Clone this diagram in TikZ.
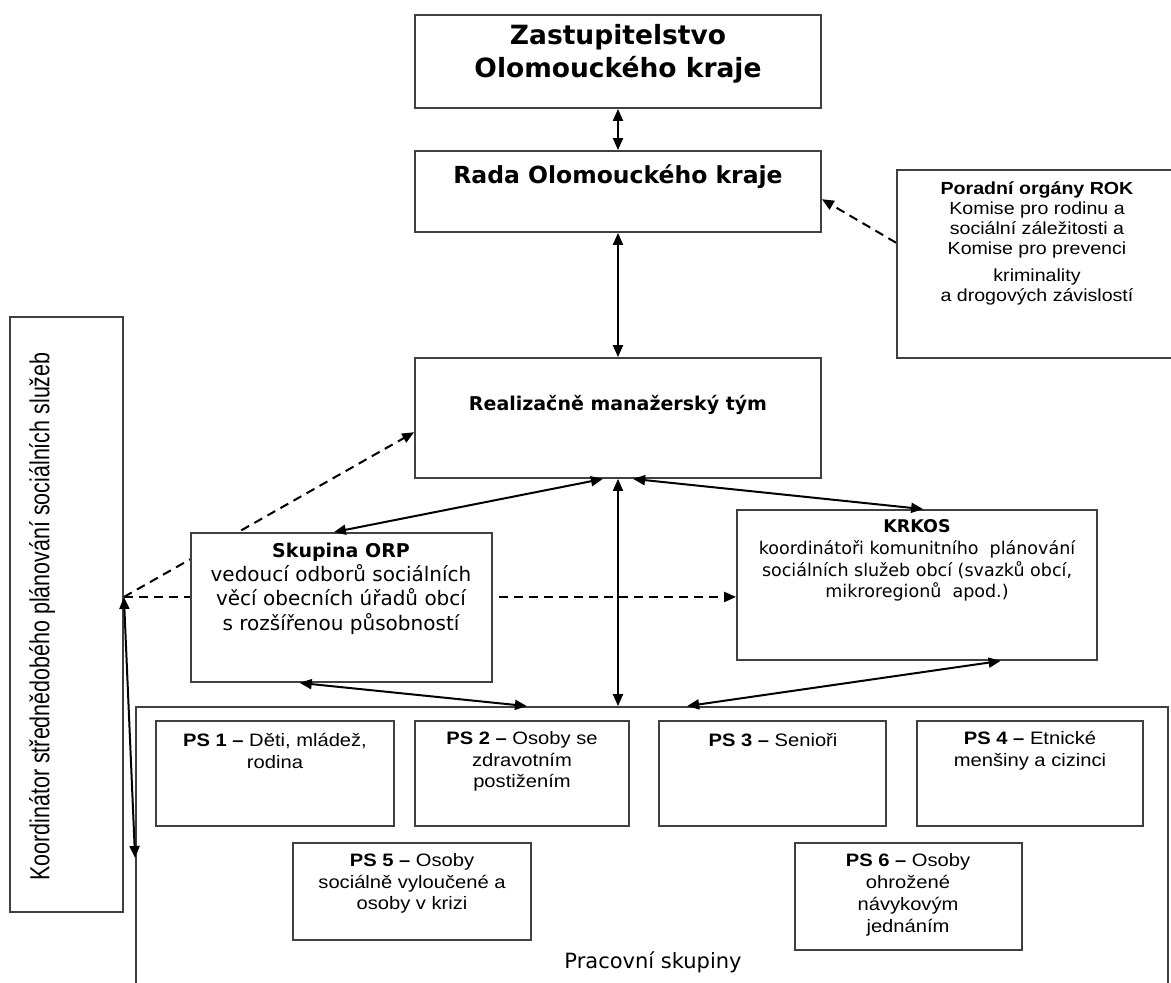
\documentclass[tikz,border=0pt]{standalone}
\usepackage{fontspec}
\setmainfont{DejaVu Sans}
\newfontfamily\arw{Liberation Sans}[FakeStretch=1.12]
\newfontfamily\arwb{Liberation Sans Bold}[FakeStretch=1.12]
\newfontfamily\arn{Liberation Sans}[FakeStretch=0.78]
\usetikzlibrary{arrows.meta,calc}
\pgfdeclarelayer{bot}
\pgfdeclarelayer{bg}
\pgfsetlayers{bot,bg,main}
\begin{document}
\begin{tikzpicture}[x=1pt,y=-1pt,
  box/.style={draw=black!75, line width=1.8pt, fill=white, inner sep=0pt},
  txt/.style={align=center, inner sep=0pt, anchor=center},
  link/.style={line width=2pt, {Triangle[length=12pt,width=10pt]}-{Triangle[length=12pt,width=10pt]}},
  dlink/.style={line width=2pt, dash pattern=on 9pt off 6pt, -{Triangle[length=12pt,width=10pt]}},
]
\useasboundingbox (0,0) rectangle (1171,983);
\begin{pgfonlayer}{bot}
\fill[white] (0,0) rectangle (1171,983);
\end{pgfonlayer}

% boxes
\node[box, minimum width=406pt, minimum height=93pt] (zast) at (618,61.5) {};
\node[box, minimum width=406pt, minimum height=81pt] (rada) at (618,191.5) {};
\node[box, minimum width=283pt, minimum height=188pt] (por) at (1038.5,264) {};
\node[box, minimum width=406pt, minimum height=120pt] (rea) at (618,418) {};
\node[box, minimum width=301pt, minimum height=149pt] (orp) at (341.5,607.5) {};
\node[box, minimum width=360pt, minimum height=150pt] (krk) at (917,585) {};
\node[box, minimum width=1032pt, minimum height=293pt] (ps) at (652,853.5) {};
\node[box, minimum width=238pt, minimum height=105pt] (ps1) at (275,773.5) {};
\node[box, minimum width=214pt, minimum height=105pt] (ps2) at (522,773.5) {};
\node[box, minimum width=227pt, minimum height=105pt] (ps3) at (772.5,773.5) {};
\node[box, minimum width=226pt, minimum height=105pt] (ps4) at (1030,773.5) {};
\node[box, minimum width=238pt, minimum height=97pt] (ps5) at (412,891.5) {};
\node[box, minimum width=227pt, minimum height=107pt] (ps6) at (908.5,896.5) {};
\node[box, minimum width=113pt, minimum height=595pt] (koord) at (66.5,614.5) {};

% texts
\node[txt, font=\fontsize{26.5}{33}\selectfont\bfseries] (tzast) at (618,53.5) {Zastupitelstvo\\Olomouckého kraje};
\node[txt, font=\fontsize{23.5}{28}\selectfont\bfseries] (trada) at (618,177) {Rada Olomouckého kraje};
\node[txt, font=\arw\fontsize{17.5}{20}\selectfont] (tpor) at (1037,243.5) {{\arwb Poradní orgány ROK}\\Komise pro rodinu a\\sociální záležitosti a\\Komise pro prevenci\\[7pt]kriminality\\a drogových závislostí};
\node[txt, font=\fontsize{19}{23}\selectfont\bfseries] (trea) at (618,405) {Realizačně manažerský tým};
\node[txt, font=\fontsize{20}{24.3}\selectfont] (torp) at (341,588.5) {\textbf{\fontsize{19}{24.3}\selectfont Skupina ORP}\\vedoucí odborů sociálních\\věcí obecních úřadů obcí\\s rozšířenou působností};
\node[txt, font=\fontsize{17.5}{21.7}\selectfont] (tkrk) at (917,560.5) {\textbf{KRKOS}\\koordinátoři komunitního\ \ plánování\\sociálních služeb obcí (svazků obcí,\\mikroregionů\ \ apod.)};
\node[txt, font=\arw\fontsize{18}{22}\selectfont] (tps1) at (275,751) {{\arwb PS 1 –} Děti, mládež,\\rodina};
\node[txt, font=\arw\fontsize{18}{21.5}\selectfont] (tps2) at (522,761.5) {{\arwb PS 2 –} Osoby se\\zdravotním\\postižením};
\node[txt, font=\arw\fontsize{18}{22}\selectfont] (tps3) at (773,740) {{\arwb PS 3 –} Senioři};
\node[txt, font=\arw\fontsize{18}{22}\selectfont] (tps4) at (1030,751) {{\arwb PS 4 –} Etnické\\menšiny a cizinci};
\node[txt, font=\arw\fontsize{18}{21.5}\selectfont] (tps5) at (412,883.5) {{\arwb PS 5 –} Osoby\\sociálně vyloučené a\\osoby v krizi};
\node[txt, font=\arw\fontsize{18}{22}\selectfont] (tps6) at (908,895) {{\arwb PS 6 –} Osoby\\ohrožené\\návykovým\\jednáním};
\node[txt, font=\fontsize{21}{25}\selectfont] (tpsk) at (653,962) {Pracovní skupiny};
\node[txt, rotate=90, font=\arn\fontsize{27.5}{30}\selectfont] (tkoord) at (42,616.5) {Koordinátor střednědobého plánování sociálních služeb};

% connectors
\coordinate (j) at ($(koord.north east)!0.4706!(koord.south east)$);
\begin{pgfonlayer}{bg}
\draw[dlink] (j) -- ($(rea.north west)!0.617!(rea.south west)$);
\draw[dlink] (j) -- (krk.west |- j);
\draw[dlink] ($(por.north west)!0.388!(por.south west)$) -- ($(rada.north east)!0.593!(rada.south east)$);
\end{pgfonlayer}
\draw[link] (zast) -- (rada);
\draw[link] (rada) -- (rea);
\draw[link] ($(rea.south west)!0.463!(rea.south east)$) -- ($(orp.north west)!0.475!(orp.north east)$);
\draw[link] (rea.south) -- (ps.north -| rea.south);
\draw[link] ($(rea.south west)!0.537!(rea.south east)$) -- ($(krk.north west)!0.517!(krk.north east)$);
\draw[link] ($(orp.south west)!0.362!(orp.south east)$) -- ($(ps.north west)!0.379!(ps.north east)$);
\draw[link] ($(krk.south west)!0.731!(krk.south east)$) -- ($(ps.north west)!0.534!(ps.north east)$);
\draw[link] (j) -- ($(ps.north west)!0.515!(ps.south west)$);
\end{tikzpicture}
\end{document}
